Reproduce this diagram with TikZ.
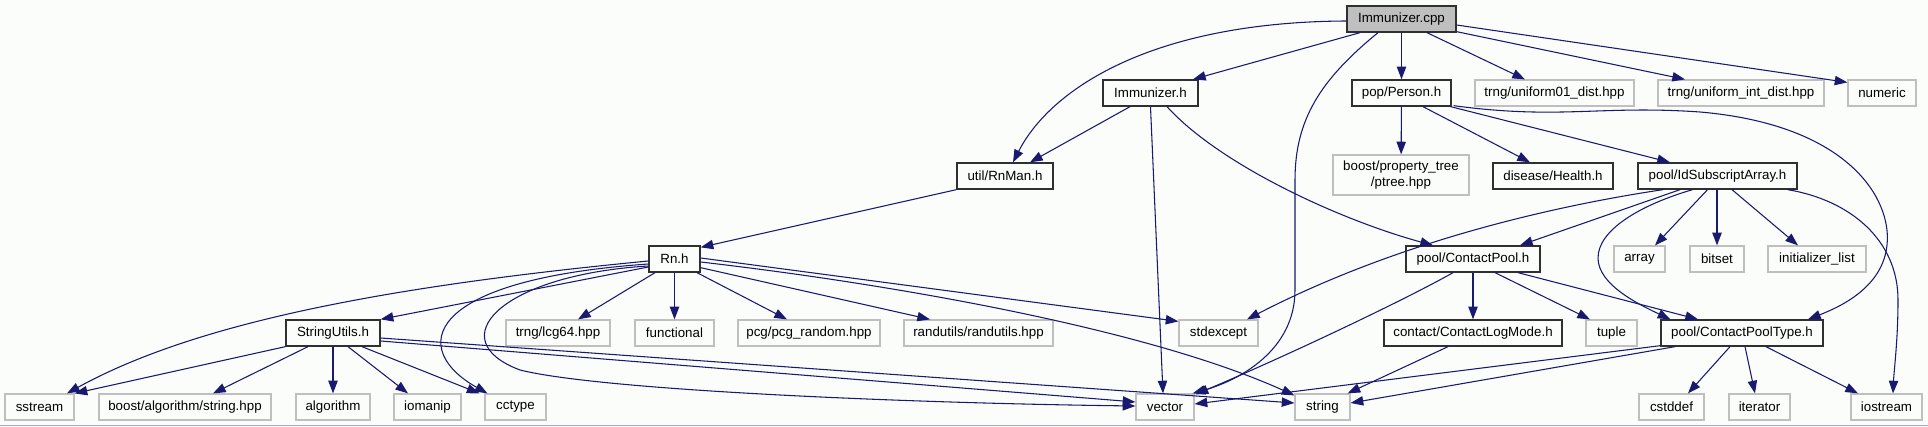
\documentclass[tikz,border=0pt]{standalone}
\usepackage{fontspec}
\setmainfont{Liberation Sans}
\usetikzlibrary{arrows.meta,calc}
\definecolor{edgeblue}{HTML}{191970}
\definecolor{extgray}{HTML}{BFBFBF}
\definecolor{docborder}{HTML}{303030}
\definecolor{cppfill}{HTML}{BFBFBF}
\definecolor{bgcol}{RGB}{251,253,251}
\definecolor{rulegray}{RGB}{168,168,178}
\begin{document}
\begin{tikzpicture}[x=0.75pt,y=-0.75pt,
  base/.style={rectangle, inner sep=0pt, minimum height=19.5pt, font=\fontsize{10}{12}\selectfont, text=black},
  doc/.style={base, draw=docborder, line width=1pt},
  ext/.style={base, draw=extgray, line width=0.9pt},
  wd/.style={minimum width=#1*0.75pt},
  dep/.style={draw=edgeblue, line width=0.8pt, -{Triangle[length=9.5pt,width=7pt]}},
]
\fill[bgcol] (0,0) rectangle (1928,427);
\useasboundingbox (0,0) rectangle (1928,427);
\draw[rulegray, line width=0.75pt] (0,426) -- (1928,426);

% row 1
\node[doc, wd=109, fill=cppfill] (cpp) at (1401.5,19) {Immunizer.cpp};
% row 2
\node[doc, wd=95] (immh) at (1150.5,93) {Immunizer.h};
\node[doc, wd=99] (person) at (1401.5,93) {pop/Person.h};
\node[ext, wd=159] (u01) at (1554.5,93) {trng/uniform01\_dist.hpp};
\node[ext, wd=166] (uint) at (1741,93) {trng/uniform\_int\_dist.hpp};
\node[ext, wd=68] (numeric) at (1882,93) {numeric};
% row 3
\node[doc, wd=96] (rnman) at (1005,176) {util/RnMan.h};
\node[ext, wd=136, minimum height=30pt, align=center] (ptree) at (1401,175) {boost/property\_tree\\/ptree.hpp};
\node[doc, wd=120] (health) at (1553,176) {disease/Health.h};
\node[doc, wd=159] (idsub) at (1717.5,176) {pool/IdSubscriptArray.h};
% row 4
\node[doc, wd=51] (rnh) at (674.5,259) {Rn.h};
\node[doc, wd=134] (cpool) at (1473,259) {pool/ContactPool.h};
\node[ext, wd=51] (array) at (1639.5,259) {array};
\node[ext, wd=54] (bitset) at (1717,259) {bitset};
\node[ext, wd=98] (initlist) at (1817,259) {initializer\_list};
% row 5
\node[doc, wd=94] (strutil) at (333,333) {StringUtils.h};
\node[ext, wd=104] (lcg) at (558,333) {trng/lcg64.hpp};
\node[ext, wd=79] (functional) at (674.5,333) {functional};
\node[ext, wd=142] (pcg) at (809,333) {pcg/pcg\_random.hpp};
\node[ext, wd=149] (randutils) at (978.5,333) {randutils/randutils.hpp};
\node[ext, wd=79] (stdexcept) at (1218.5,333) {stdexcept};
\node[doc, wd=178] (logmode) at (1473,333) {contact/ContactLogMode.h};
\node[ext, wd=51] (tuple) at (1611.5,333) {tuple};
\node[doc, wd=162] (cptype) at (1742,333) {pool/ContactPoolType.h};
% row 6
\node[ext, wd=69] (sstream) at (39.5,407) {sstream};
\node[ext, wd=172] (balgo) at (185,407) {boost/algorithm/string.hpp};
\node[ext, wd=74] (algorithm) at (333,407) {algorithm};
\node[ext, wd=67] (iomanip) at (427.5,407) {iomanip};
\node[ext, wd=61] (cctype) at (515.5,407) {cctype};
\node[ext, wd=58] (vector) at (1165,407) {vector};
\node[ext, wd=55] (string) at (1322.5,407) {string};
\node[ext, wd=65] (cstddef) at (1671.5,407) {cstddef};
\node[ext, wd=61] (iterator) at (1759.5,407) {iterator};
\node[ext, wd=71] (iostream) at (1886.5,407) {iostream};

% Immunizer.cpp
\draw[dep] ($(cpp.south)+(-41.5,0)$) -- ($(immh.north)+(42.5,0)$);
\draw[dep] ($(cpp.west)+(0,2)$) .. controls (1150,22) and (1050,90) .. ($(rnman.north)+(8,0)$);
\draw[dep] ($(cpp.south)+(-23.5,0)$) .. controls (1320,80) and (1295,120) .. (1295,180) -- (1295,290) .. controls (1295,350) and (1240,380) .. ($(vector.north east)+(-2,0)$);
\draw[dep] (cpp) -- (person);
\draw[dep] ($(cpp.south)+(25.5,0)$) -- ($(u01.north)+(-29.5,0)$);
\draw[dep] ($(cpp.south east)+(0,-1)$) -- ($(uint.north)+(-56,0)$);
\draw[dep] ($(cpp.east)+(0,6)$) -- ($(numeric.north west)+(0,3)$);

% Immunizer.h
\draw[dep] ($(immh.south)+(-20.5,0)$) -- ($(rnman.north)+(25,0)$);
\draw[dep] (immh.south) -- ($(vector.north)+(-2,0)$);
\draw[dep] ($(immh.south)+(16.5,0)$) .. controls (1220,165) and (1340,220) .. ($(cpool.north)+(-40,0)$);

% pop/Person.h
\draw[dep] (person) -- (ptree);
\draw[dep] ($(person.south)+(21.5,0)$) -- ($(health.north)+(-23,0)$);
\draw[dep] ($(person.south east)+(-1,0)$) -- ($(idsub.north)+(-47.5,0)$);
\draw[dep] ($(person.south east)+(2,-1)$) .. controls (1560,120) and (1600,105) .. (1700,112) .. controls (1850,125) and (1892,200) .. (1887,245) .. controls (1883,285) and (1845,305) .. ($(cptype.north)+(66,0)$);

% pool/IdSubscriptArray.h
\draw[dep] ($(idsub.south)+(-54.5,0)$) .. controls (1560,205) and (1400,240) .. ($(stdexcept.north)+(28.5,0)$);
\draw[dep] ($(idsub.south)+(-37.5,0)$) -- ($(cpool.north)+(47,0)$);
\draw[dep] ($(idsub.south)+(-25,0)$) .. controls (1640,205) and (1598,230) .. (1598,258) .. controls (1598,285) and (1640,305) .. ($(cptype.north west)+(10,0)$);
\draw[dep] ($(idsub.south)+(-10,0)$) -- ($(array.north)+(15.5,0)$);
\draw[dep] (bitset.north |- idsub.south) -- (bitset.north);
\draw[dep] ($(idsub.south)+(14.5,0)$) -- ($(initlist.north)+(-19,0)$);
\draw[dep] ($(idsub.south east)+(-10,0)$) .. controls (1850,200) and (1898,240) .. (1898,300) .. controls (1898,340) and (1894,370) .. ($(iostream.north)+(6.5,0)$);

% util/RnMan.h
\draw[dep] (rnman.south west) -- ($(rnh.north east)+(0,2)$);

% Rn.h
\draw[dep] ($(rnh.west)+(0,8)$) -- (strutil.north east);
\draw[dep] ($(rnh.west)+(0,2)$) .. controls (400,285) and (200,320) .. ($(sstream.north)+(27.5,0)$);
\draw[dep] ($(rnh.west)+(0,5)$) .. controls (420,280) and (410,350) .. ($(cctype.north)+(-28,0)$);
\draw[dep] ($(rnh.west)+(0,7)$) .. controls (500,275) and (440,340) .. (520,370) .. controls (600,390) and (900,403) .. ($(vector.west)+(0,-1)$);
\draw[dep] ($(rnh.south)+(-19.5,0)$) -- ($(lcg.north)+(20,0)$);
\draw[dep] (rnh) -- (functional);
\draw[dep] ($(rnh.south)+(22.5,0)$) -- ($(pcg.north)+(-22,0)$);
\draw[dep] ($(rnh.south east)+(0,-5)$) -- ($(randutils.north)+(-48.5,0)$);
\draw[dep] ($(rnh.east)+(0,-1)$) -- ($(stdexcept.north west)+(0,2)$);
\draw[dep] ($(rnh.east)+(0,3)$) .. controls (900,285) and (1150,330) .. ($(string.north west)+(0,2)$);

% StringUtils.h
\draw[dep] (strutil.south west) -- (sstream.north east);
\draw[dep] ($(strutil.south)+(-25,0)$) -- ($(balgo.north)+(28,0)$);
\draw[dep] (strutil) -- (algorithm);
\draw[dep] ($(strutil.south)+(15,0)$) -- ($(iomanip.north)+(-19.5,0)$);
\draw[dep] ($(strutil.south)+(29,0)$) -- ($(cctype.north)+(-36,0)$);
\draw[dep] ($(strutil.east)+(0,5)$) -- ($(string.west)+(0,-4)$);
\draw[dep] ($(strutil.east)+(0,8)$) -- ($(vector.west)+(0,-5)$);

% pool/ContactPool.h
\draw[dep] ($(cpool.south)+(-20,0)$) .. controls (1410,297) and (1300,350) .. ($(vector.north east)+(1,1)$);
\draw[dep] (cpool) -- (logmode);
\draw[dep] ($(cpool.south)+(22,0)$) -- ($(tuple.north)+(-21.5,0)$);
\draw[dep] ($(cpool.south)+(45,0)$) -- ($(cptype.north)+(-44,0)$);

% contact/ContactLogMode.h
\draw[dep] ($(logmode.south)+(-25,0)$) -- ($(string.north east)+(-3,0)$);

% pool/ContactPoolType.h
\draw[dep] ($(cptype.south west)+(0,-1)$) -- ($(vector.east)+(0,-3)$);
\draw[dep] ($(cptype.south)+(-67,0)$) -- ($(string.east)+(0,-4)$);
\draw[dep] ($(cptype.south)+(-12,0)$) -- ($(cstddef.north)+(16.5,0)$);
\draw[dep] ($(cptype.south)+(3,0)$) -- ($(iterator.north)+(-4.5,0)$);
\draw[dep] ($(cptype.south)+(24,0)$) -- ($(iostream.north)+(-28.5,0)$);
\end{tikzpicture}
\end{document}
